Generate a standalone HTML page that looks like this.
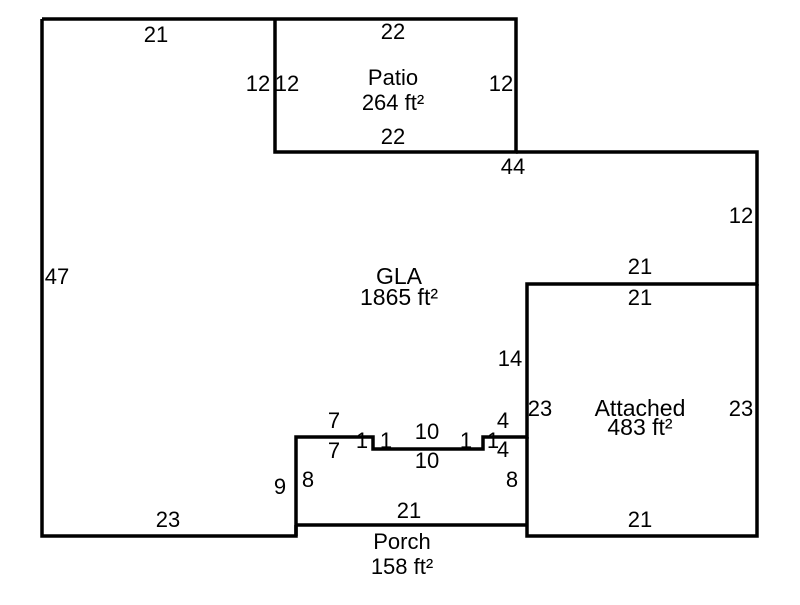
<!DOCTYPE html>
<html><head><style>body{margin:0;background:#fff}</style></head><body>
<svg width="800" height="600" xmlns="http://www.w3.org/2000/svg" font-family="Liberation Sans, Arial, sans-serif" font-size="22" fill="#000">
<g fill="none" stroke="#000" stroke-width="3.5" stroke-linejoin="miter">
<polyline points="42,19 516,19 516,152 275,152 275,19"/>
<polyline points="42,19 42,536 296,536 296,437 373,437 373,449 483,449 483,437 527,437 527,284 757,284 757,152 516,152"/>
<polyline points="527,437 527,536 757,536 757,284"/>
<line x1="296" y1="525" x2="527" y2="525"/>
<line x1="296" y1="525" x2="296" y2="536"/>
</g>
<g text-anchor="middle">
<text x="156" y="42">21</text>
<text x="393" y="39">22</text>
<text x="258" y="91">12</text>
<text x="287" y="91">12</text>
<text x="501" y="91">12</text>
<text x="393" y="85">Patio</text>
<text x="393" y="110">264 ft²</text>
<text x="393" y="144">22</text>
<text x="513" y="174">44</text>
<text x="741" y="223">12</text>
<text x="57" y="284">47</text>
<text x="399" y="284" font-size="23">GLA</text>
<text x="399" y="305" font-size="23">1865 ft²</text>
<text x="640" y="274">21</text>
<text x="640" y="305">21</text>
<text x="510" y="366">14</text>
<text x="540" y="416">23</text>
<text x="640" y="416" font-size="23">Attached</text>
<text x="640" y="435" font-size="23">483 ft²</text>
<text x="741" y="416">23</text>
<text x="334" y="428">7</text>
<text x="334" y="458">7</text>
<text x="362" y="448">1</text>
<text x="386" y="448">1</text>
<text x="427" y="439">10</text>
<text x="427" y="468">10</text>
<text x="466" y="448">1</text>
<text x="493" y="448">1</text>
<text x="503" y="428">4</text>
<text x="503" y="457">4</text>
<text x="280" y="494">9</text>
<text x="308" y="487">8</text>
<text x="512" y="487">8</text>
<text x="409" y="518">21</text>
<text x="168" y="527">23</text>
<text x="640" y="527">21</text>
<text x="402" y="549">Porch</text>
<text x="402" y="574">158 ft²</text>
</g>
</svg>
</body></html>
